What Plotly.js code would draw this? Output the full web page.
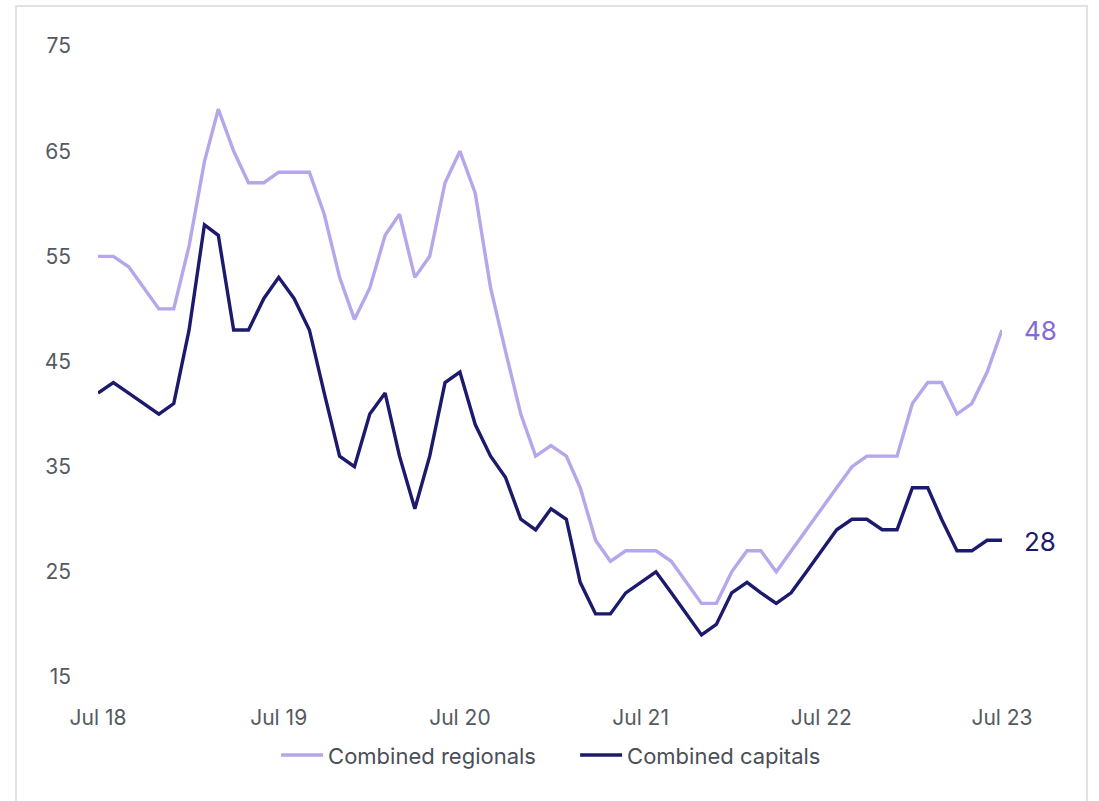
<!DOCTYPE html>
<html>
<head>
<meta charset="utf-8">
<script src="https://cdn.plot.ly/plotly-3.0.1.min.js"></script>
<style>
  html, body { margin: 0; padding: 0; background: #ffffff; overflow: hidden; }
  #frame { position: absolute; left: 15px; top: 5px; width: 1073px; height: 900px;
           border: 2px solid #e2e2e2; box-sizing: border-box; }
  #chart { position: absolute; left: 0; top: 0; width: 1099px; height: 801px; }
</style>
</head>
<body>
<div id="frame"></div>
<div id="chart"></div>
<script>
const months = [
  '2018-07-01','2018-08-01','2018-09-01','2018-10-01','2018-11-01','2018-12-01',
  '2019-01-01','2019-02-01','2019-03-01','2019-04-01','2019-05-01','2019-06-01',
  '2019-07-01','2019-08-01','2019-09-01','2019-10-01','2019-11-01','2019-12-01',
  '2020-01-01','2020-02-01','2020-03-01','2020-04-01','2020-05-01','2020-06-01',
  '2020-07-01','2020-08-01','2020-09-01','2020-10-01','2020-11-01','2020-12-01',
  '2021-01-01','2021-02-01','2021-03-01','2021-04-01','2021-05-01','2021-06-01',
  '2021-07-01','2021-08-01','2021-09-01','2021-10-01','2021-11-01','2021-12-01',
  '2022-01-01','2022-02-01','2022-03-01','2022-04-01','2022-05-01','2022-06-01',
  '2022-07-01','2022-08-01','2022-09-01','2022-10-01','2022-11-01','2022-12-01',
  '2023-01-01','2023-02-01','2023-03-01','2023-04-01','2023-05-01','2023-06-01',
  '2023-07-01'
];

const combinedRegionals = [
  55, 55, 54, 52, 50, 50,
  56, 64, 69, 65, 62, 62,
  63, 63, 63, 59, 53, 49,
  52, 57, 59, 53, 55, 62,
  65, 61, 52, 46, 40, 36,
  37, 36, 33, 28, 26, 27,
  27, 27, 26, 24, 22, 22,
  25, 27, 27, 25, 27, 29,
  31, 33, 35, 36, 36, 36,
  41, 43, 43, 40, 41, 44,
  48
];

const combinedCapitals = [
  42, 43, 42, 41, 40, 41,
  48, 58, 57, 48, 48, 51,
  53, 51, 48, 42, 36, 35,
  40, 42, 36, 31, 36, 43,
  44, 39, 36, 34, 30, 29,
  31, 30, 24, 21, 21, 23,
  24, 25, 23, 21, 19, 20,
  23, 24, 23, 22, 23, 25,
  27, 29, 30, 30, 29, 29,
  33, 33, 30, 27, 27, 28,
  28
];

const seriesNames = ['Combined regionals', 'Combined capitals'];
const yTicks = [15, 25, 35, 45, 55, 65, 75];
const xTickVals = ['2018-07-01','2019-07-01','2020-07-01','2021-07-01','2022-07-01','2023-07-01'];
const xTickText = ['Jul 18','Jul 19','Jul 20','Jul 21','Jul 22','Jul 23'];

const colRegional = '#b6a6ea';
const colCapital = '#1c1a6c';
const fontFam = 'Inter, "Open Sans", "Noto Sans", sans-serif';

const traces = [
  {
    x: months, y: combinedRegionals, name: seriesNames[0],
    type: 'scatter', mode: 'lines', cliponaxis: false,
    line: { color: colRegional, width: 3.4, shape: 'linear' },
    hoverinfo: 'skip'
  },
  {
    x: months, y: combinedCapitals, name: seriesNames[1],
    type: 'scatter', mode: 'lines', cliponaxis: false,
    line: { color: colCapital, width: 3.4, shape: 'linear' },
    hoverinfo: 'skip'
  }
];

const lastIdx = months.length - 1;

const layout = {
  width: 1099, height: 801,
  paper_bgcolor: 'rgba(0,0,0,0)',
  plot_bgcolor: 'rgba(0,0,0,0)',
  margin: { l: 98, r: 97, t: 46, b: 124, pad: 0 },
  font: { family: fontFam, color: '#555a61', size: 21 },
  showlegend: true,
  legend: {
    orientation: 'h', x: 0.197, xanchor: 'left', y: -0.124, yanchor: 'middle',
    font: { family: fontFam, size: 22, color: '#4a4f57' },
    itemwidth: 42, tracegroupgap: 0, itemclick: false,
    entrywidth: 242, entrywidthmode: 'pixels'
  },
  xaxis: {
    type: 'date',
    range: [months[0], months[lastIdx]],
    tickvals: xTickVals, ticktext: xTickText,
    showgrid: false, zeroline: false, showline: false, ticks: '',
    ticklabelstandoff: 26,
    tickfont: { family: fontFam, size: 21, color: '#555a61' },
    fixedrange: true
  },
  yaxis: {
    range: [15, 75],
    tickvals: yTicks, ticktext: yTicks.map(String),
    showgrid: false, zeroline: false, showline: false, ticks: '',
    ticklabelstandoff: 26,
    tickfont: { family: fontFam, size: 21, color: '#555a61' },
    fixedrange: true
  },
  annotations: [
    {
      x: months[lastIdx], y: combinedRegionals[lastIdx], xref: 'x', yref: 'y',
      text: String(combinedRegionals[lastIdx]), showarrow: false,
      xanchor: 'left', yanchor: 'middle', xshift: 20, yshift: -1,
      font: { family: fontFam, size: 26, color: '#8467d8' }
    },
    {
      x: months[lastIdx], y: combinedCapitals[lastIdx], xref: 'x', yref: 'y',
      text: String(combinedCapitals[lastIdx]), showarrow: false,
      xanchor: 'left', yanchor: 'middle', xshift: 20, yshift: -1,
      font: { family: fontFam, size: 26, color: '#1c1a6c' }
    }
  ]
};

Plotly.newPlot('chart', traces, layout, { displayModeBar: false, staticPlot: true });
</script>
</body>
</html>
